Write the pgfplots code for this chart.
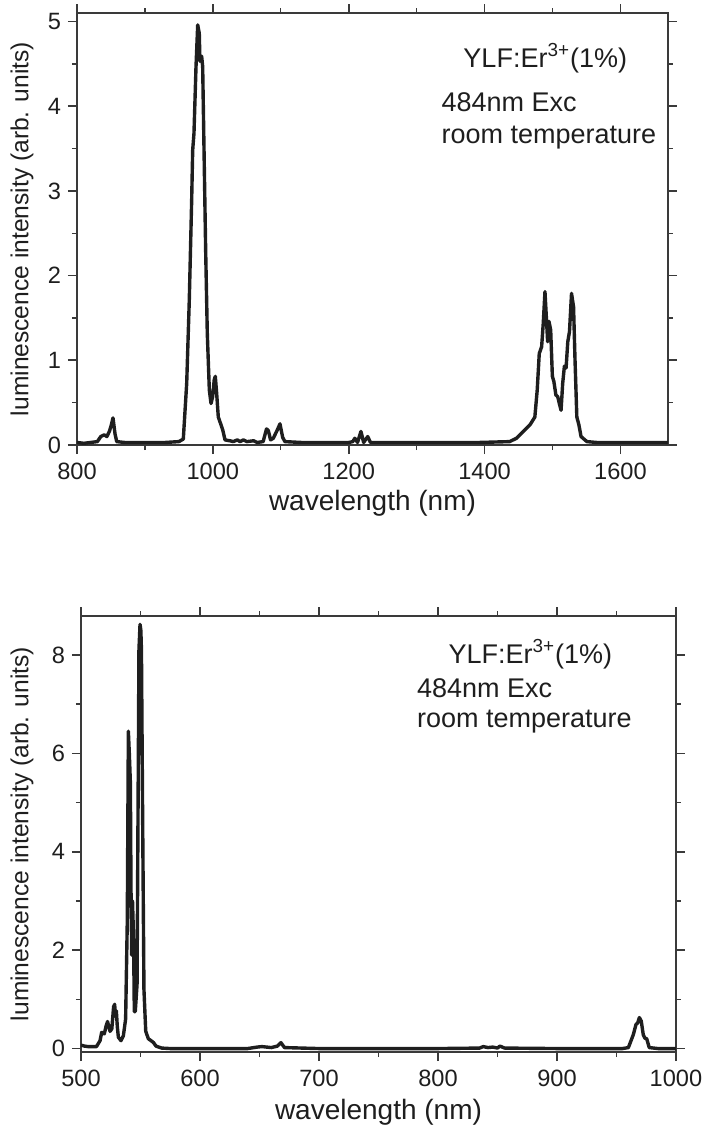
\documentclass[border=0pt]{standalone}
\usepackage{fontspec}
\setmainfont{Liberation Sans}
\usepackage{pgfplots}
\pgfplotsset{compat=1.18}
\definecolor{ink}{HTML}{1E1E1E}
\definecolor{axc}{HTML}{3A3A3A}
\pgfplotsset{
  spec/.style={
    scale only axis,
    /pgf/number format/assume math mode=true,
    /pgf/number format/1000 sep={},
    tick align=outside,
    tick pos=both,
    major tick length=4.5pt,
    minor tick length=2.5pt,
    axis line style={axc, line width=0.8pt},
    every tick/.style={axc, line width=0.8pt},
    every minor tick/.style={axc, line width=0.7pt},
    tick label style={font=\fontsize{11.8}{13}\selectfont, text=ink},
    xlabel style={font=\fontsize{14}{16}\selectfont, text=ink},
    ylabel style={font=\fontsize{12.3}{14}\selectfont, text=ink},
    xticklabel style={anchor=north, yshift=-1pt},
    yticklabel style={anchor=east},
    clip=true,
  }
}
\begin{document}
\begin{tikzpicture}
\useasboundingbox (-38.5pt,-342pt) rectangle (316.5pt,222.5pt);
% ---------------- top plot ----------------
\begin{axis}[spec,
  at={(0,0)}, anchor=south west,
  width=295.5pt, height=216pt,
  xmin=800, xmax=1670, ymin=0, ymax=5.1,
  xtick={800,1000,1200,1400,1600},
  minor xtick={900,1100,1300,1500},
  ytick={0,1,2,3,4,5},
  minor ytick={0.5,1.5,2.5,3.5,4.5},
  xlabel={wavelength (nm)},
  ylabel={luminescence intensity (arb. units)},
  xlabel style={at={(axis description cs:0.5,-0.134)}, anchor=center},
  ylabel style={at={(axis description cs:-0.093,0.5)}, anchor=center},
]
\addplot[ink, line width=1.7pt, line join=round] coordinates {
(800,0.03)(810,0.02)(820,0.03)(830,0.04)(835,0.1)(840,0.12)(844,0.1)(847.6,0.16)(850,0.22)(853,0.32)(856,0.13)(858.5,0.04)(870,0.03)(900,0.03)(930,0.03)(950,0.04)(956.5,0.07)(961.5,0.73)(965.3,1.71)(968.8,2.89)(970.3,3.48)(972.2,3.68)(975.2,4.47)(977.7,4.96)(980,4.86)(981,4.53)(983.5,4.59)(985,4.47)(987,3.48)(989.4,2.30)(991.8,1.32)(994.8,0.65)(997.3,0.49)(999.7,0.57)(1002,0.77)(1003.6,0.81)(1005.6,0.61)(1008,0.33)(1011.5,0.25)(1014.5,0.18)(1017.9,0.06)(1025,0.05)(1030,0.04)(1036,0.06)(1040,0.04)(1045,0.06)(1050,0.04)(1060,0.05)(1065,0.03)(1074,0.04)(1079,0.19)(1081.6,0.17)(1085,0.06)(1089,0.08)(1095,0.18)(1098.8,0.25)(1102.8,0.09)(1106,0.04)(1130,0.03)(1160,0.03)(1200,0.03)(1206,0.04)(1209,0.08)(1213,0.03)(1218,0.16)(1222,0.03)(1228,0.1)(1232,0.03)(1260,0.03)(1300,0.03)(1350,0.03)(1392.6,0.03)(1437,0.04)(1447,0.08)(1457,0.16)(1467,0.24)(1474,0.33)(1477.5,0.65)(1480.5,1.08)(1484,1.16)(1486.4,1.44)(1488.9,1.81)(1491.4,1.44)(1492.8,1.22)(1494.8,1.46)(1497.3,1.36)(1499.8,0.81)(1502,0.75)(1505,0.59)(1507.7,0.57)(1510,0.49)(1512.6,0.41)(1515,0.73)(1517.5,0.93)(1520,0.91)(1522.5,1.22)(1525,1.34)(1528,1.79)(1531,1.63)(1533,1.04)(1535.8,0.33)(1538.8,0.24)(1542,0.1)(1550.6,0.04)(1565,0.03)(1600,0.03)(1640,0.03)(1670,0.03)
};
\node[anchor=base west, font=\fontsize{13.5}{15}\selectfont, text=ink] at (rel axis cs:0.642,0.875) {YLF:Er\textsuperscript{3+}(1\%)};
\node[anchor=base west, font=\fontsize{13.5}{15}\selectfont, text=ink] at (rel axis cs:0.605,0.773) {484nm Exc};
\node[anchor=base west, font=\fontsize{13.5}{15}\selectfont, text=ink] at (rel axis cs:0.605,0.697) {room temperature};
\end{axis}
% ---------------- bottom plot ----------------
\begin{axis}[spec,
  at={(2pt,-303.5pt)}, anchor=south west,
  width=297.5pt, height=218pt,
  xmin=500, xmax=1000, ymin=-0.07, ymax=8.79,
  xtick={500,600,700,800,900,1000},
  minor xtick={550,650,750,850,950},
  ytick={0,2,4,6,8},
  minor ytick={1,3,5,7},
  xlabel={wavelength (nm)},
  ylabel={luminescence intensity (arb. units)},
  xlabel style={at={(axis description cs:0.5,-0.138)}, anchor=center},
  ylabel style={at={(axis description cs:-0.099,0.5)}, anchor=center},
]
\addplot[ink, line width=1.7pt, line join=round] coordinates {
(500,0.07)(503,0.05)(506,0.04)(513,0.04)(516,0.16)(517.4,0.33)(519.6,0.3)(521,0.45)(522.3,0.55)(523.3,0.45)(524.4,0.35)(525.9,0.4)(527.4,0.85)(528.3,0.9)(528.9,0.65)(529.7,0.77)(530.5,0.45)(531.4,0.23)(533.6,0.16)(535.6,0.26)(537.5,0.6)(538.9,2.6)(539.8,6.45)(540.6,6.0)(541.5,5.4)(542,3.3)(542.6,1.9)(543.3,3.0)(544.2,2.2)(544.8,0.75)(545.6,0.75)(547.1,1.3)(547.9,4.7)(548.7,8.1)(549.6,8.62)(550.3,8.5)(550.8,8.1)(551.8,4.7)(552.9,1.2)(554.4,0.35)(556.6,0.2)(559.4,0.15)(561,0.12)(563,0.05)(567.8,0.01)(575,0)(600,0)(640,0)(648,0.03)(652,0.04)(656,0.03)(660,0.02)(665,0.05)(668,0.12)(671,0.02)(700,0)(750,0)(800,0)(835,0.01)(838,0.04)(842,0.02)(846,0.03)(850,0.01)(852,0.05)(856,0.01)(900,0)(955,0)(960,0.02)(964.1,0.28)(966.4,0.49)(967.8,0.52)(969.2,0.63)(970.8,0.56)(972.5,0.28)(973.9,0.21)(975.4,0.2)(977.5,0.02)(985,0)(1000,0)
};
\node[anchor=base west, font=\fontsize{13.5}{15}\selectfont, text=ink] at (rel axis cs:0.606,0.892) {YLF:Er\textsuperscript{3+}(1\%)};
\node[anchor=base west, font=\fontsize{13.5}{15}\selectfont, text=ink] at (rel axis cs:0.553,0.8125) {484nm Exc};
\node[anchor=base west, font=\fontsize{13.5}{15}\selectfont, text=ink] at (rel axis cs:0.553,0.744) {room temperature};
\end{axis}
\end{tikzpicture}
\end{document}
